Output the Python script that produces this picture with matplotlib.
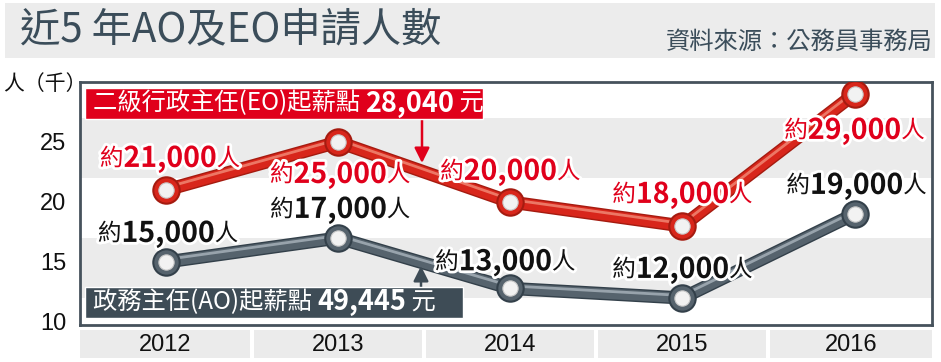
import matplotlib
matplotlib.use("Agg")
import matplotlib.pyplot as plt
import matplotlib.patheffects as pe
from matplotlib.patches import Rectangle, FancyArrowPatch
from matplotlib.transforms import IdentityTransform, offset_copy

plt.rcParams['font.family'] = ['Noto Sans CJK TC', 'DejaVu Sans']

# ---------------- data ----------------
years = ["2012", "2013", "2014", "2015", "2016"]
eo_values = [21, 25, 20, 18, 29]          # thousands
ao_values = [15, 17, 12.8, 12, 19]        # thousands
eo_labels = ["21,000", "25,000", "20,000", "18,000", "29,000"]
ao_labels = ["15,000", "17,000", "13,000", "12,000", "19,000"]
yticks = [10, 15, 20, 25]
title = "近5 年AO及EO申請人數"
source = "資料來源：公務員事務局"
ylabel = "人（千）"
eo_box = ("二級行政主任(EO)起薪點 ", "28,040", " 元")
ao_box = ("政務主任(AO)起薪點 ", "49,445", " 元")

RED = "#d8261b"
RED_DARK = "#a51b10"
RED_BOX = "#e0001b"
SLATE = "#56636d"
SLATE_DARK = "#33404a"
SLATE_BOX = "#3e4c56"
TITLE_C = "#3b4d5a"

W, H = 941, 362
fig = plt.figure(figsize=(W / 100, H / 100), dpi=100)
fig.patch.set_facecolor("white")

def fx(px):
    return px / W

def fy(py):
    return 1 - py / H

# title bar
fig.patches.append(Rectangle((fx(5), fy(58)), fx(935) - fx(5), fy(3) - fy(58),
                             transform=fig.transFigure, facecolor="#ececec",
                             edgecolor="none", zorder=0))
fig.text(fx(20), fy(30), title, fontsize=29, color=TITLE_C, va="center", ha="left")
fig.text(fx(933), fy(42), source, fontsize=17.5, color=TITLE_C, va="center", ha="right")
fig.text(fx(3), fy(84), ylabel, fontsize=15, color="#111111", va="center", ha="left")

# axes
ax_l, ax_r, ax_t, ax_b = 80, 932, 82, 325
ax = fig.add_axes([fx(ax_l), fy(ax_b), fx(ax_r) - fx(ax_l), fy(ax_t) - fy(ax_b)])
ax.set_xlim(-0.5, 4.45)
ax.set_ylim(9.75, 30)
ax.set_facecolor("white")
for band in [(12, 17), (22, 27)]:
    ax.axhspan(band[0], band[1], color="#ebebeb", zorder=0, lw=0)
for s in ax.spines.values():
    s.set_color("#46525c")
    s.set_linewidth(2.0)
ax.set_xticks([])
ax.set_yticks(yticks)
ax.set_yticklabels([str(t) for t in yticks], fontsize=17, family="Liberation Sans")
ax.tick_params(axis="y", length=0, pad=10, colors="#111111")

xs = list(range(len(years)))

def draw_series(vals, col, dark, light):
    ax.plot(xs, vals, color=col, lw=7.5, solid_capstyle="round", zorder=3,
            path_effects=[pe.Stroke(linewidth=9.5, foreground=dark), pe.Normal()])
    tr = offset_copy(ax.transData, fig=fig, x=0, y=1.8, units="points")
    ax.plot(xs, vals, color=light, lw=2.0, alpha=0.8, zorder=4, transform=tr,
            solid_capstyle="round")
    ax.plot(xs, vals, ls="none", marker="o", ms=19, mfc=col, mec=dark, mew=1.5, zorder=5)
    ax.plot(xs, vals, ls="none", marker="o", ms=11, mfc="#f2f2f2", mec="#c8c8c8",
            mew=0.8, zorder=6)

draw_series(eo_values, RED, RED_DARK, "#f28c78")
draw_series(ao_values, SLATE, SLATE_DARK, "#a9b4bc")

# year boxes
for i, y in enumerate(years):
    x0 = ax.transData.transform((i - 0.5, 0))[0]
    x1 = ax.transData.transform((i + 0.5, 0))[0]
    x0 += 2 if i > 0 else 0
    x1 -= 2
    if i == len(years) - 1:
        x1 = ax_r
    fig.patches.append(Rectangle((fx(x0), fy(358)), fx(x1) - fx(x0), fy(330) - fy(358),
                                 transform=fig.transFigure, facecolor="#ebebeb",
                                 edgecolor="none", zorder=0))
    fig.text(fx((x0 + x1) / 2), fy(345), y, fontsize=17, family="Liberation Sans",
             ha="center", va="center", color="#111111")

fig.canvas.draw()
renderer = fig.canvas.get_renderer()

def runs_text(cx, cy, runs, ha="center", zorder=10):
    """cx, cy in display pixels; runs: list of (str, kwargs)."""
    objs = []
    widths = []
    for s, kw in runs:
        t = fig.text(0, 0, s, transform=IdentityTransform(), va="center", ha="left",
                     zorder=zorder, **kw)
        bb = t.get_window_extent(renderer)
        objs.append(t)
        widths.append(bb.width)
    total = sum(widths)
    x = cx - total / 2 if ha == "center" else cx
    for t, w in zip(objs, widths):
        t.set_position((x, cy))
        x += w
    return objs

def data_label(i, v, num, dx, dy, color, outline):
    px, py = ax.transData.transform((i, v))
    eff = [pe.withStroke(linewidth=4, foreground=outline)]
    runs_text(px + dx, py + dy, [
        ("約", dict(fontsize=17, color=color, fontweight="medium", path_effects=eff)),
        (num, dict(fontsize=20.5, color=color, fontweight="black", path_effects=eff)),
        ("人", dict(fontsize=17, color=color, fontweight="regular", path_effects=eff)),
    ])

eo_off = [(4, 31), (2, -33), (0, 30), (0, 31), (0, -37)]
ao_off = [(2, 28), (2, 28), (-5, 26), (0, 28), (2, 28)]
for i, (v, lab) in enumerate(zip(eo_values, eo_labels)):
    data_label(i, v, lab, eo_off[i][0], eo_off[i][1], RED_BOX, "white")
for i, (v, lab) in enumerate(zip(ao_values, ao_labels)):
    data_label(i, v, lab, ao_off[i][0], ao_off[i][1], "#111111", "white")

# legend-like boxes
def label_box(x0, x1, ytop, ybot, face, parts):
    fig.patches.append(Rectangle((fx(x0), fy(ybot)), fx(x1) - fx(x0), fy(ytop) - fy(ybot),
                                 transform=fig.transFigure, facecolor=face,
                                 edgecolor="white", lw=1.0, zorder=8))
    runs_text(x0 + 8, H - (ytop + ybot) / 2, [
        (parts[0], dict(fontsize=17.5, color="white")),
        (parts[1], dict(fontsize=19.5, color="white", fontweight="black")),
        (parts[2], dict(fontsize=17.5, color="white")),
    ], ha="left", zorder=9)

label_box(85, 483, 88, 119, RED_BOX, eo_box)
label_box(85, 463, 287, 318, SLATE_BOX, ao_box)

# arrows (pixel coordinates -> figure)
def arrow(x, y0, y1, col):
    a = FancyArrowPatch((fx(x), fy(y0)), (fx(x), fy(y1)), transform=fig.transFigure,
                        arrowstyle="-|>,head_length=9,head_width=4.5", color=col,
                        lw=1.8, zorder=7, shrinkA=0, shrinkB=0)
    fig.patches.append(a)

arrow(422, 119, 163, RED_BOX)
arrow(421, 287, 266, SLATE_BOX)

fig.savefig("out.png", dpi=100)
